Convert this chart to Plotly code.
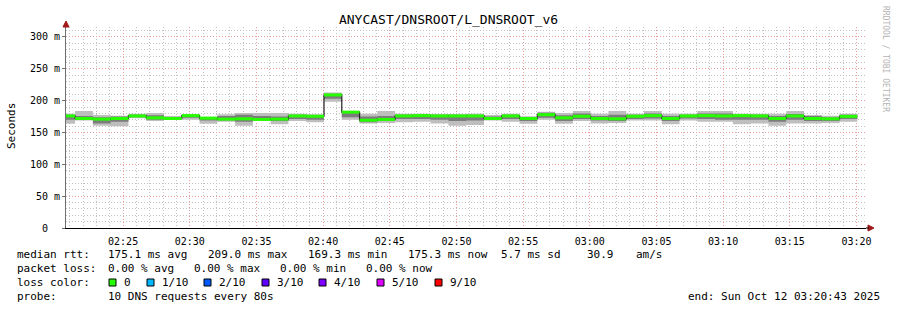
import pandas as pd
import plotly.graph_objects as go

# ---------------- data ----------------
title = "ANYCAST/DNSROOT/L_DNSROOT_v6"
range_start = "2025-10-12 02:20:43"
range_end = "2025-10-12 03:20:43"
first_step = "2025-10-12 02:21:24"
step_seconds = 80

median = [176, 172, 171, 172, 176, 173, 172, 176.5, 172.5, 171,
          171.5, 170.5, 171, 176, 175.5, 209, 182, 169.3, 170.5, 176,
          176.5, 176, 176, 176, 172, 176, 172, 178, 173, 175.5,
          172, 171.5, 175.5, 176.5, 172, 176, 176.5, 176, 176.5, 176,
          172, 176, 172, 171.5, 175.3]
ping_lo = [163.9, 169, 160.7, 159.7, 172.2, 168, 169.6, 170.1, 163.9, 167,
           160.7, 168, 162.8, 168, 166, 198.4, 170.1, 164, 164.9, 166,
           167, 164, 160.7, 161.8, 169, 167, 163.9, 170.1, 163.9, 168,
           164, 164.9, 169, 169, 162.8, 169, 167, 167, 162.8, 164,
           160.7, 164, 164, 164.9, 167]
ping_hi = [179.6, 183.8, 177.5, 176.4, 179.6, 180.6, 175.9, 178.5, 174.9, 178.5,
           180.6, 180.6, 180.6, 179.6, 178.5, 213, 183.8, 179.6, 183.8, 179.6,
           179.6, 178.5, 178.5, 179.6, 177.5, 179.6, 175.4, 182.7, 180.6, 183.8,
           179.6, 183.8, 179.6, 183.8, 179.6, 179.6, 183.8, 183.8, 179.6, 179.6,
           179.6, 183.8, 177.5, 176.4, 179.6]
mid_lo = [170, 170, 164, 167, 174, 170, 171, 173, 169, 169,
          167, 169, 168, 171, 170, 203, 174, 166, 168, 171,
          171, 170, 168, 169, 170, 171, 168, 173, 168, 171,
          169, 168, 171, 172, 168, 172, 171, 170, 170, 170,
          167, 170, 168, 168, 171]
mid_hi = [178, 176, 174, 175, 178, 177, 174, 178, 174, 176,
          178, 176, 175, 178, 177, 211, 181, 175, 176, 178,
          178, 178, 178, 178, 175, 178, 174, 181, 177, 180,
          176, 178, 178, 180, 176, 178, 180, 180, 178, 178,
          176, 179, 176, 174, 178]

y_tick_vals = [0, 50, 100, 150, 200, 250, 300]
y_tick_text = ["0\u00a0\u00a0", "50 m", "100 m", "150 m", "200 m", "250 m", "300 m"]

stats_line1 = [("median rtt:", 16), ("175.1 ms avg", 107), ("209.0 ms max", 207),
               ("169.3 ms min", 307), ("175.3 ms now", 407), ("5.7 ms sd", 500),
               ("30.9", 586), ("am/s", 635)]
stats_line2 = [("packet loss:", 16), ("0.00 % avg", 107), ("0.00 % max", 193),
               ("0.00 % min", 279), ("0.00 % now", 365)]
loss_labels = ["0", "1/10", "2/10", "3/10", "4/10", "5/10", "9/10"]
loss_colors = ["#26ff00", "#00b8ff", "#0059ff", "#5e00ff", "#7e00ff", "#dd00ff", "#ff0000"]
loss_box_x = [109, 147, 204, 262, 319, 377, 435]
loss_text_x = [123, 161, 218, 276, 333, 391, 449]
probe_text = "10 DNS requests every 80s"
end_text = "end: Sun Oct 12 03:20:43 2025"
credit = "RRDTOOL / TOBI OETIKER"

# ---------------- geometry ----------------
W, H = 897, 310
ML, MR, MT, MB = 66, 31, 27, 82
PW, PH = W - ML - MR, H - MT - MB
FONT = "DejaVu Sans Mono"


def px(x):
    return (x - ML) / PW


def py(y):
    return (H - MB - y) / PH


edges = [pd.Timestamp(range_start)] + list(
    pd.date_range(first_step, periods=len(median), freq=f"{step_seconds}s"))


def step_xy(vals):
    xs = list(edges[:len(vals) + 1])
    ys = list(vals) + [vals[-1]]
    return xs, ys


fig = go.Figure()


def band(lo, hi, color):
    x1, y1 = step_xy(lo)
    x2, y2 = step_xy(hi)
    fig.add_trace(go.Scatter(x=x1, y=y1, mode="lines", line=dict(width=0, shape="hv"),
                             hoverinfo="skip", showlegend=False))
    fig.add_trace(go.Scatter(x=x2, y=y2, mode="lines", line=dict(width=0, shape="hv"),
                             fill="tonexty", fillcolor=color, hoverinfo="skip", showlegend=False))


band(ping_lo, ping_hi, "#bebebe")
band(mid_lo, mid_hi, "#7c7c7c")

mx, my = step_xy(median)
fig.add_trace(go.Scatter(x=mx, y=my, mode="lines", line=dict(color="#202020", width=1.2, shape="hv"),
                         hoverinfo="skip", showlegend=False))

gx, gy = [], []
for i, v in enumerate(median):
    gx += [edges[i], edges[i + 1], None]
    gy += [v, v, None]
fig.add_trace(go.Scatter(x=gx, y=gy, mode="lines", line=dict(color="#26ff00", width=3),
                         hoverinfo="skip", showlegend=False))

annotations = []
for line, yy in ((stats_line1, 254), (stats_line2, 268)):
    for txt, xx in line:
        annotations.append(dict(text=txt, x=px(xx), y=py(yy), xref="paper", yref="paper",
                                xanchor="left", yanchor="middle", showarrow=False,
                                font=dict(family=FONT, size=11, color="#000"), borderpad=0))
annotations.append(dict(text="loss color:", x=px(16), y=py(282), xref="paper", yref="paper",
                        xanchor="left", yanchor="middle", showarrow=False,
                        font=dict(family=FONT, size=11, color="#000"), borderpad=0))
for lab, tx in zip(loss_labels, loss_text_x):
    annotations.append(dict(text=lab, x=px(tx), y=py(282), xref="paper", yref="paper",
                            xanchor="left", yanchor="middle", showarrow=False,
                            font=dict(family=FONT, size=11, color="#000"), borderpad=0))
annotations.append(dict(text="probe:", x=px(16), y=py(296), xref="paper", yref="paper",
                        xanchor="left", yanchor="middle", showarrow=False,
                        font=dict(family=FONT, size=11, color="#000"), borderpad=0))
annotations.append(dict(text=probe_text, x=px(107), y=py(296), xref="paper", yref="paper",
                        xanchor="left", yanchor="middle", showarrow=False,
                        font=dict(family=FONT, size=11, color="#000"), borderpad=0))
annotations.append(dict(text=end_text, x=px(881), y=py(296), xref="paper", yref="paper",
                        xanchor="right", yanchor="middle", showarrow=False,
                        font=dict(family=FONT, size=11, color="#000"), borderpad=0))
annotations.append(dict(text="Seconds", x=px(11), y=py(126), xref="paper", yref="paper",
                        xanchor="center", yanchor="middle", showarrow=False, textangle=-90,
                        font=dict(family=FONT, size=11, color="#000"), borderpad=0))
annotations.append(dict(text=credit, x=px(886), y=py(59), xref="paper", yref="paper",
                        xanchor="center", yanchor="middle", showarrow=False, textangle=90,
                        font=dict(family=FONT, size=8, color="#b4b4b4"), borderpad=0))

shapes = []
for c, bx in zip(loss_colors, loss_box_x):
    shapes.append(dict(type="rect", xref="paper", yref="paper",
                       x0=px(bx), x1=px(bx + 7), y0=py(286), y1=py(279),
                       fillcolor=c, line=dict(color="#000", width=1)))
# axis arrows
shapes.append(dict(type="path", xref="paper", yref="paper", xsizemode="pixel", ysizemode="pixel",
                   xanchor=0, yanchor=1, path="M -3,0 L 3,0 L 0,6 Z",
                   fillcolor="#a01818", line=dict(color="#a01818", width=1)))
shapes.append(dict(type="path", xref="paper", yref="paper", xsizemode="pixel", ysizemode="pixel",
                   xanchor=1, yanchor=0, path="M 2,-3 L 2,3 L 8,0 Z",
                   fillcolor="#a01818", line=dict(color="#a01818", width=1)))
shapes.append(dict(type="line", xref="paper", yref="paper", xsizemode="pixel",
                   xanchor=1, x0=0, x1=3, y0=0, y1=0, line=dict(color="#000", width=1)))

MAJOR = "#e99a9a"
MINOR = "#c2c2c2"
DASH = "1px,2px"

fig.update_layout(
    width=W, height=H,
    margin=dict(l=ML, r=MR, t=MT, b=MB),
    paper_bgcolor="white", plot_bgcolor="white",
    title=dict(text=title, x=0.5, xanchor="center", y=1 - 19 / H, yanchor="middle",
               font=dict(family=FONT, size=13, color="#000")),
    font=dict(family=FONT, size=10, color="#000"),
    showlegend=False,
    annotations=annotations,
    shapes=shapes,
    xaxis=dict(
        type="date", range=[range_start, range_end],
        tickformat="%H:%M", dtick=300000, tick0="2025-10-12 02:25:00",
        showgrid=True, gridcolor=MAJOR, griddash=DASH, gridwidth=1,
        minor=dict(dtick=60000, tick0="2025-10-12 02:21:00", showgrid=True,
                   gridcolor=MINOR, griddash=DASH, gridwidth=1),
        showline=True, linecolor="#000", linewidth=1,
        ticks="", ticklabelstandoff=4, zeroline=False,
        tickfont=dict(family=FONT, size=10, color="#000"),
    ),
    yaxis=dict(
        range=[0, PH / 0.6367],
        tickvals=y_tick_vals, ticktext=y_tick_text,
        showgrid=True, gridcolor=MAJOR, griddash=DASH, gridwidth=1,
        minor=dict(dtick=10, tick0=0, showgrid=True, gridcolor=MINOR,
                   griddash=DASH, gridwidth=1),
        showline=True, linecolor="#707070", linewidth=1,
        ticks="outside", ticklen=3, tickcolor="#707070", zeroline=False,
        tickfont=dict(family=FONT, size=10, color="#000"),
    ),
)

fig.write_html("out.html")
